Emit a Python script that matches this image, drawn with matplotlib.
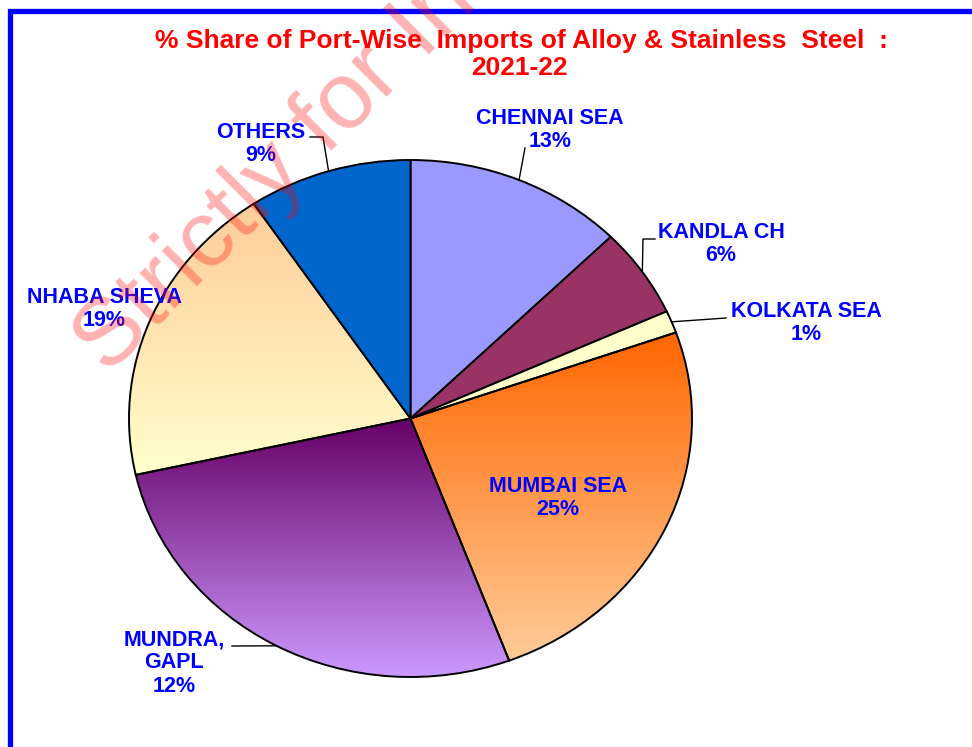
import numpy as np
import matplotlib.pyplot as plt
from matplotlib.colors import LinearSegmentedColormap
from matplotlib.lines import Line2D

plt.rcParams['font.family'] = ['Liberation Sans', 'DejaVu Sans']

W, H = 972, 747

# port-wise import shares, 2021-22 (clockwise from 12 o'clock)
ports = ['CHENNAI SEA', 'KANDLA CH', 'KOLKATA SEA', 'MUMBAI SEA',
         'MUNDRA,\nGAPL', 'NHABA SHEVA', 'OTHERS']
shares = [12.6, 5.6, 1.4, 24.7, 27.2, 19.1, 9.4]
share_labels = ['13%', '6%', '1%', '25%', '12%', '19%', '9%']

colors = ['#9999FF', '#993366', '#FFFFCC', 'none', 'none', 'none', '#0066CC']
# vertical fills (top colour, bottom colour) for the shaded slices
gradients = {3: ('#FF6600', '#FFCC99'),
             4: ('#660066', '#CC99FF'),
             5: ('#FFCC99', '#FFFFCC')}

# label block centres in pixels (x from left, y from top)
label_pos = [(550, 130), (721, 244), (806, 323), (558, 498),
             (174, 663), (104, 309), (261, 144)]
# leader line points on the label side, in pixels
leaders = {0: [(525, 148)],
           1: [(655, 239), (643, 239)],
           2: [(726, 318)],
           4: [(232, 646)],
           6: [(310, 137), (323, 137)]}


def fig_xy(x, y):
    return x / W, 1 - y / H


fig = plt.figure(figsize=(W / 100, H / 100), dpi=100)
ax = fig.add_axes([129 / W, (H - 677) / H, 563 / W, 517 / H])

wedges, _ = ax.pie(shares, startangle=90, counterclock=False, colors=colors,
                   wedgeprops=dict(edgecolor='black', linewidth=1.4))

grad = np.linspace(0, 1, 256).reshape(-1, 1)
for i, (top, bottom) in gradients.items():
    w = wedges[i]
    ext = w.get_path().get_extents()
    cmap = LinearSegmentedColormap.from_list('fill%d' % i, [top, bottom])
    im = ax.imshow(grad, cmap=cmap, extent=(ext.x0, ext.x1, ext.y0, ext.y1),
                   origin='upper', aspect='auto', interpolation='bilinear',
                   zorder=0.5)
    im.set_clip_path(w)

ax.set_aspect('auto')
ax.set_xlim(-1, 1)
ax.set_ylim(-1, 1)
ax.axis('off')

# data labels
for name, pct, (x, y) in zip(ports, share_labels, label_pos):
    fig.text(*fig_xy(x, y), name + '\n' + pct, ha='center', va='center',
             ma='center', fontsize=15.5, fontweight='bold', color='#0000FF',
             linespacing=1.15)

# leader lines from labels to slice edges
for i, pts in leaders.items():
    w = wedges[i]
    mid = np.deg2rad((w.theta1 + w.theta2) / 2)
    disp = ax.transData.transform((np.cos(mid), np.sin(mid)))
    ex, ey = fig.transFigure.inverted().transform(disp)
    xs = [fig_xy(*p)[0] for p in pts] + [ex]
    ys = [fig_xy(*p)[1] for p in pts] + [ey]
    fig.add_artist(Line2D(xs, ys, color='black', lw=1.0,
                          transform=fig.transFigure))

# title
fig.text(*fig_xy(521, 48),
         '% Share of Port-Wise  Imports of Alloy & Stainless  Steel  :',
         ha='center', va='baseline', fontsize=19, fontweight='bold',
         color='#FF0000')
fig.text(*fig_xy(519, 75), '2021-22', ha='center', va='baseline',
         fontsize=19, fontweight='bold', color='#FF0000')

# chart border
fig.add_artist(Line2D([10 / W, 10 / W, 1.01], [-0.01, 1 - 10.5 / H, 1 - 10.5 / H],
                      color='#0000FF', lw=3.8, solid_joinstyle='miter',
                      transform=fig.transFigure))

# watermark
fig.text(*fig_xy(108, 376), 'Strictly for Internal Use', rotation=45,
         rotation_mode='anchor', ha='left', va='baseline', fontsize=68,
         color='red', alpha=0.3, zorder=10)

fig.savefig('out.png', dpi=100)
